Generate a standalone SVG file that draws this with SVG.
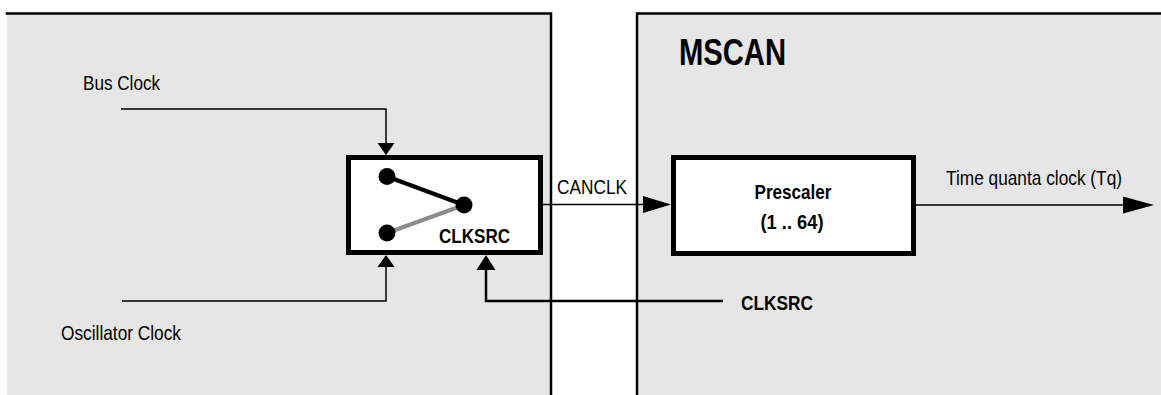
<svg xmlns="http://www.w3.org/2000/svg" width="1161" height="395" viewBox="0 0 1161 395">
<defs>
<style>
.panel{fill:#e6e6e6;stroke:none}
.border{fill:none;stroke:#000;stroke-width:2.5;stroke-linecap:square}
.box{fill:#fff;stroke:#000;stroke-width:5}
.wire{fill:none;stroke:#000;stroke-width:1.5}
.wire2{fill:none;stroke:#000;stroke-width:2.5}
.head{fill:#000;stroke:none}
.t{font-family:"Liberation Sans",Arial,sans-serif;font-size:21px;fill:#000}
.b{font-family:"Liberation Sans",Arial,sans-serif;font-weight:bold;fill:#000}
</style>
</defs>
<rect width="1161" height="395" fill="#fff"/>
<g id="panel-left">
<rect class="panel" x="7" y="13" width="544" height="382"/>
<polyline class="border" points="7,13.5 551,13.5 551,395"/>
</g>
<g id="panel-mscan">
<rect class="panel" x="637" y="13" width="524" height="382"/>
<polyline class="border" points="637,395 637,13.5 1161,13.5"/>
<text class="b" x="679" y="65" font-size="37" textLength="107" lengthAdjust="spacingAndGlyphs">MSCAN</text>
</g>
<g id="connectors">
<polyline class="wire" points="121,109 386,109 386,143"/>
<polygon class="head" points="377.5,143 394.5,143 386,155"/>
<polyline class="wire" points="122,301 386,301 386,267"/>
<polygon class="head" points="377.5,267 394.5,267 386,255"/>
<polyline class="wire2" points="723,301 486,301 486,270"/>
<polygon class="head" points="476.5,270 495.5,270 486,255"/>
<line class="wire" x1="543" y1="204.5" x2="644" y2="204.5"/>
<polygon class="head" points="643,196 671,204.5 643,213"/>
<line class="wire" x1="916" y1="205" x2="1124" y2="205"/>
<polygon class="head" points="1123,196.5 1154,205 1123,213.5"/>
</g>
<g id="label-bus-clock"><text class="t" x="83" y="90" textLength="77" lengthAdjust="spacingAndGlyphs">Bus Clock</text></g>
<g id="label-osc-clock"><text class="t" x="61" y="340" textLength="120" lengthAdjust="spacingAndGlyphs">Oscillator Clock</text></g>
<g id="label-canclk"><text class="t" x="557" y="194" textLength="70" lengthAdjust="spacingAndGlyphs">CANCLK</text></g>
<g id="label-tq"><text class="t" x="946" y="185" textLength="176" lengthAdjust="spacingAndGlyphs">Time quanta clock (Tq)</text></g>
<g id="label-clksrc"><text class="b" x="741" y="310" font-size="20" textLength="72" lengthAdjust="spacingAndGlyphs">CLKSRC</text></g>
<g id="clksrc-mux">
<rect class="box" x="348.5" y="157.5" width="192" height="95"/>
<line x1="387" y1="176.5" x2="464" y2="205" stroke="#000" stroke-width="4"/>
<line x1="387" y1="233" x2="464" y2="205" stroke="#8c8c8c" stroke-width="4"/>
<circle cx="387" cy="176.5" r="8.5" fill="#000"/>
<circle cx="464" cy="205" r="8.5" fill="#000"/>
<circle cx="387" cy="233" r="8.5" fill="#000"/>
<text class="b" x="439" y="243" font-size="20" textLength="71" lengthAdjust="spacingAndGlyphs">CLKSRC</text>
</g>
<g id="prescaler">
<rect class="box" x="673.5" y="157.5" width="240" height="96"/>
<text class="b" x="793" y="199" font-size="21" text-anchor="middle" textLength="77" lengthAdjust="spacingAndGlyphs">Prescaler</text>
<text class="b" x="792" y="229" font-size="21" text-anchor="middle" textLength="63" lengthAdjust="spacingAndGlyphs">(1 .. 64)</text>
</g>
</svg>
